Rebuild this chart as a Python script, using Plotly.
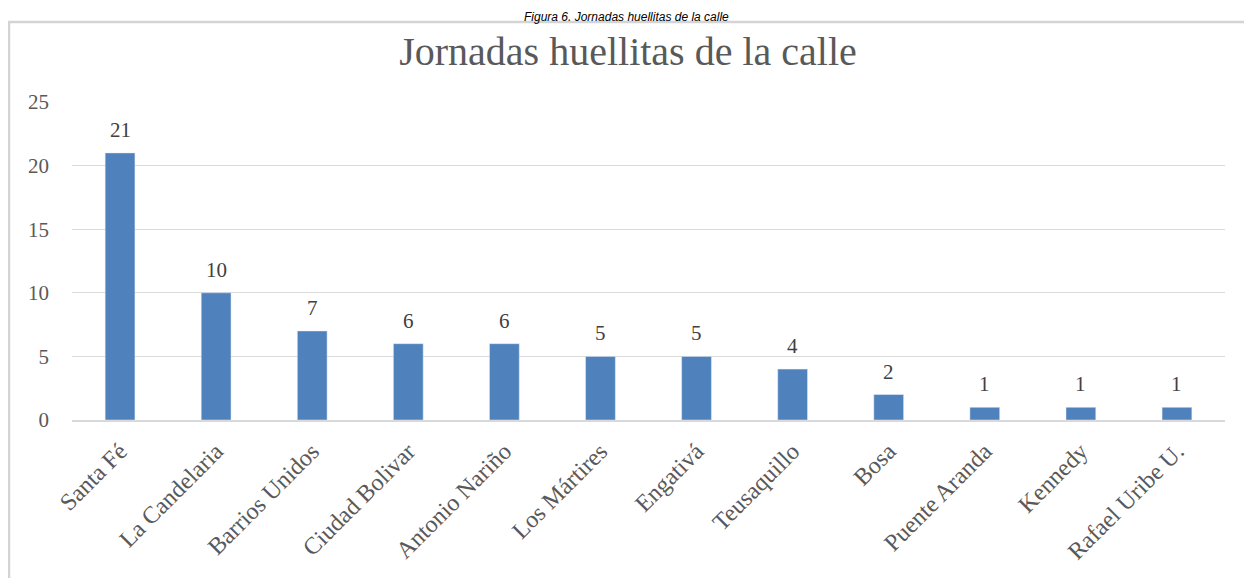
import plotly.graph_objects as go

localidades = ['Santa Fé', 'La Candelaria', 'Barrios Unidos', 'Ciudad Bolivar',
               'Antonio Nariño', 'Los Mártires', 'Engativá', 'Teusaquillo',
               'Bosa', 'Puente Aranda', 'Kennedy', 'Rafael Uribe U.']
jornadas = [21, 10, 7, 6, 6, 5, 5, 4, 2, 1, 1, 1]
y_ticks = [0, 5, 10, 15, 20, 25]

W, H = 1252, 578
# la pagina agrega 8 px de margen, por eso todo va corrido
ml, mr, mt, mb = 64, 35, 94, 166
pw, ph = W - ml - mr, H - mt - mb


def px_x(x):
    return (x - ml) / pw


def px_y(y):
    return 1 + (mt - y) / ph


fuente = 'Liberation Serif'

fig = go.Figure()
fig.add_trace(go.Bar(
    x=localidades, y=jornadas,
    marker_color='#4f81bd',
    showlegend=False))

# etiquetas de datos
for loc, val in zip(localidades, jornadas):
    fig.add_annotation(x=loc, y=val, text=str(val), showarrow=False,
                       yanchor='bottom', yshift=9,
                       font=dict(family=fuente, size=21, color='#404040'))

fig.update_layout(
    width=W, height=H,
    margin=dict(l=ml, r=mr, t=mt, b=mb),
    paper_bgcolor='white', plot_bgcolor='white',
    bargap=0.69,
    font=dict(family=fuente, color='#595959'),
    title=dict(text='Jornadas huellitas de la calle', xref='container',
               x=620 / W, xanchor='center',
               y=1 - 43 / H, yanchor='middle',
               font=dict(family=fuente, size=40, color='#595959')),
)
fig.update_yaxes(range=[0, 25], tickvals=y_ticks, showgrid=True,
                 gridcolor='#d9d9d9', gridwidth=1, zeroline=False,
                 tickfont=dict(family=fuente, size=21, color='#595959'),
                 ticks='', ticklabelstandoff=22)
fig.update_xaxes(tickangle=-45, showline=True, linecolor='#d9d9d9', linewidth=1.5,
                 tickfont=dict(family=fuente, size=24, color='#595959'),
                 ticks='', ticklabelstandoff=6)

# marco del grafico
fig.add_shape(type='rect', xref='paper', yref='paper',
              x0=px_x(1), x1=px_x(W + 20), y0=px_y(H + 20), y1=px_y(14),
              line=dict(color='#d4d4d4', width=2.5), fillcolor='rgba(0,0,0,0)',
              layer='below')

# leyenda de figura
fig.add_annotation(text='<i>Figura 6. Jornadas huellitas de la calle</i>',
                   xref='paper', yref='paper', x=px_x(618), y=px_y(0),
                   xanchor='center', yanchor='top', showarrow=False,
                   font=dict(family='Liberation Sans', size=12, color='black'))

fig.write_html('out.html')
